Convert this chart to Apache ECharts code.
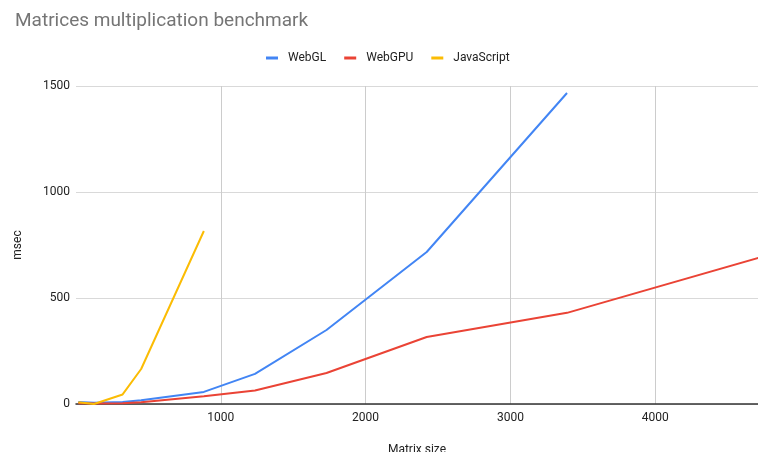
<!DOCTYPE html>
<html>
<head>
<meta charset="utf-8">
<script src="https://cdn.jsdelivr.net/npm/echarts@6/dist/echarts.min.js"></script>
<style>
  html, body { margin: 0; padding: 0; background: #fff; }
  #chart { width: 758px; height: 452px; }
</style>
</head>
<body>
<div id="chart"></div>
<script>
// Matrix sizes (N for an N x N multiplication)
const matrixSizes = [16, 124, 322, 450, 883, 1236, 1730, 2422, 3391, 4747];

// Run times in milliseconds; null where the run was not measured
const webglTimes      = [10, 6, 10, 18, 57, 142, 349, 717, 1467, null];
const webgpuTimes     = [4, 2, 4, 8, 36, 64, 146, 316, 430, 696];
const javascriptTimes = [8, 0, 45, 165, 816, null, null, null, null, null];

const yTicks = [0, 500, 1000, 1500];
const xTicks = [1000, 2000, 3000, 4000];

function pairs(values) {
  const out = [];
  values.forEach((v, i) => { if (v !== null) out.push([matrixSizes[i], v]); });
  return out;
}

const FONT = 'Roboto, "Liberation Sans", Arial, sans-serif';
const chart = echarts.init(document.getElementById('chart'), null, { renderer: 'canvas' });

function lineSeries(name, values, color) {
  return {
    name: name,
    type: 'line',
    data: pairs(values),
    showSymbol: false,
    symbol: 'none',
    clip: true,
    lineStyle: { color: color, width: 2 },
    itemStyle: { color: color },
    emphasis: { disabled: true },
    animation: false
  };
}

chart.setOption({
  animation: false,
  title: {
    text: 'Matrices multiplication benchmark',
    left: 10,
    top: 7,
    textStyle: { fontFamily: FONT, fontSize: 19, fontWeight: 'normal', color: '#757575' }
  },
  legend: {
    top: 47,
    left: 261,
    icon: 'rect',
    itemWidth: 12,
    itemHeight: 3,
    itemGap: 18,
    textStyle: { fontFamily: FONT, fontSize: 12, color: '#222', padding: [0, 0, 0, 5] },
    data: ['WebGL', 'WebGPU', 'JavaScript']
  },
  grid: { left: 76, right: 0, top: 86, bottom: 48, containLabel: false, outerBoundsMode: 'none' },
  xAxis: {
    type: 'value',
    min: 0,
    max: 4710,
    interval: 1000,
    name: 'Matrix size',
    nameLocation: 'middle',
    nameGap: 40,
    nameTextStyle: { fontFamily: FONT, fontSize: 12, color: '#222' },
    axisLine: { show: true, lineStyle: { color: '#333', width: 1.5 } },
    axisTick: { show: false },
    axisLabel: {
      fontFamily: FONT, fontSize: 12, color: '#222', margin: 8,
      showMinLabel: false, showMaxLabel: false,
      formatter: v => (xTicks.indexOf(v) >= 0 ? String(v) : '')
    },
    splitLine: { show: true, showMinLine: false, showMaxLine: false, lineStyle: { color: '#cccccc', width: 1 } }
  },
  yAxis: {
    type: 'value',
    min: 0,
    max: 1500,
    interval: 500,
    name: 'msec',
    nameLocation: 'middle',
    nameGap: 52,
    nameTextStyle: { fontFamily: FONT, fontSize: 12, color: '#222' },
    axisLine: { show: false },
    axisTick: { show: false },
    axisLabel: {
      fontFamily: FONT, fontSize: 12, color: '#222', margin: 6,
      formatter: v => (yTicks.indexOf(v) >= 0 ? String(v) : '')
    },
    splitLine: { show: true, lineStyle: { color: '#d9d9d9', width: 1 } }
  },
  series: [
    lineSeries('WebGL', webglTimes, '#4285F4'),
    lineSeries('WebGPU', webgpuTimes, '#EA4335'),
    lineSeries('JavaScript', javascriptTimes, '#FBBC04')
  ]
});
</script>
</body>
</html>
